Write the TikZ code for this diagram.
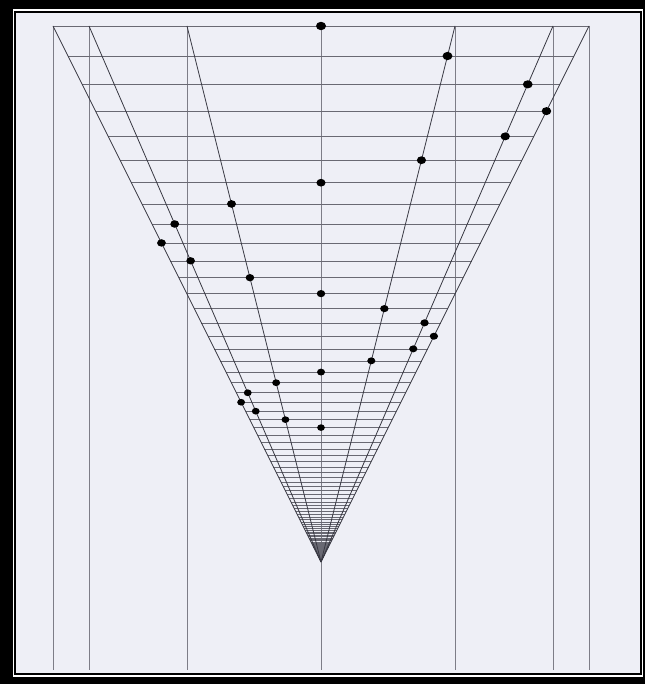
\documentclass[tikz,border=0pt]{standalone}
\usetikzlibrary{calc}
\definecolor{paper}{RGB}{238,239,246}
\definecolor{hgray}{RGB}{105,105,115}
\definecolor{rgray}{RGB}{55,55,65}
\definecolor{vgray}{RGB}{125,125,135}
\tikzset{
  hline/.style={hgray, line width=0.6pt},
  radial/.style={rgray, line width=0.8pt},
  vline/.style={vgray, line width=0.8pt},
  dot/.style={fill=black}
}
\begin{document}
\begin{tikzpicture}[x=1pt,y=-1pt]
\useasboundingbox (0,0) rectangle (645,684);
% frame
\fill[black] (0,0) rectangle (645,684);
\fill[white] (12.5,9.5) rectangle (643,677);
\fill[paper] (15,12) rectangle (640.8,673.5);
\draw[black, line width=2pt] (15,12) rectangle (640.8,673.5);
% key points
\coordinate (A) at (321,562);
\foreach \n/\o in {L3/-268,L2/-232,L1/-134,C/0,R1/134,R2/232,R3/268} {
  \coordinate (T\n) at (321+\o,26);
  \coordinate (B\n) at (321+\o,670);
}
% vertical lines
\foreach \n in {L3,L2,L1,C,R1,R2,R3} \draw[vline] (T\n) -- (B\n);
% horizontal lines (perspective)
\draw[hline] (TL3) -- (TR3);
\foreach \k in {1,...,110} {
  \pgfmathsetmacro{\f}{0.944^\k}
  \draw[hline] ($(A)!\f!(TL3)$) -- ($(A)!\f!(TR3)$);
}
% radial lines
\foreach \n in {L3,L2,L1,R1,R2,R3} \draw[radial] (A) -- (T\n);
% dots
\foreach \k/\n in {0/C,1/R1,2/R2,3/R3,4/R2,5/R1,6/C,7/L1,8/L2,9/L3,10/L2,11/L1,12/C,13/R1,14/R2,15/R3,16/R2,17/R1,18/C,19/L1,20/L2,21/L3,22/L2,23/L1,24/C} {
  \pgfmathsetmacro{\f}{0.944^\k}
  \pgfmathsetmacro{\rx}{3.5+1.5*\f}
  \pgfmathsetmacro{\ry}{3.0+1.2*\f}
  \fill[dot] ($(A)!\f!(T\n)$) ellipse [x radius=\rx pt, y radius=\ry pt];
}
\end{tikzpicture}
\end{document}
